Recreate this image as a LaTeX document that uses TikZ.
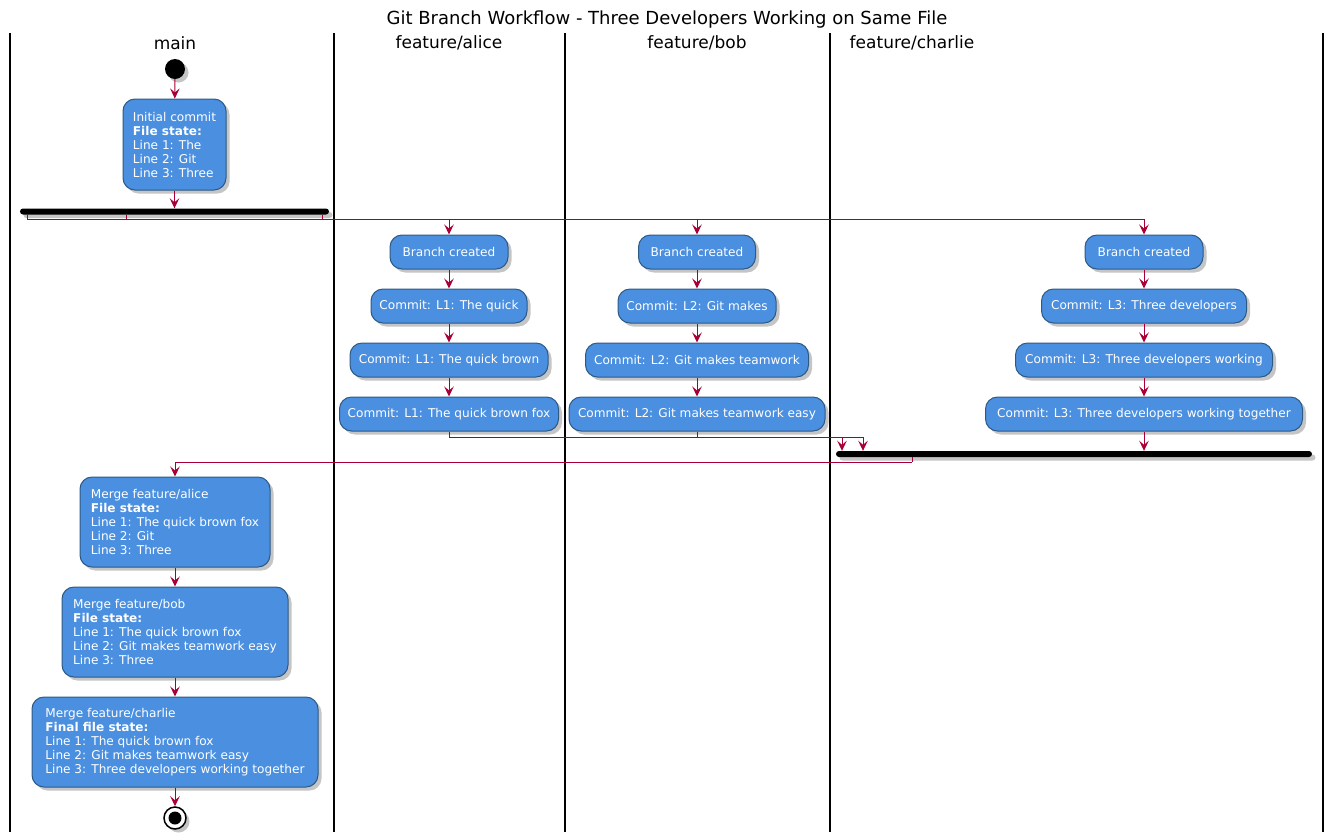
\documentclass[tikz,border=0pt]{standalone}
\usepackage{fontspec}
\setmainfont{DejaVu Sans}
\usetikzlibrary{arrows.meta,shadows}
\definecolor{boxfill}{HTML}{4A8FE0}
\definecolor{boxline}{HTML}{2D5A85}
\definecolor{arr}{HTML}{A80036}
\begin{document}
\begin{tikzpicture}[x=1pt,y=-1pt,
  shade/.style={drop shadow={shadow xshift=3.5pt,shadow yshift=-3.5pt,fill=black!45,opacity=0.5}},
  act/.style={rectangle, rounded corners=12pt, draw=boxline, line width=1pt, fill=boxfill,
    text=white, font=\fontsize{12.1}{14}\selectfont, inner xsep=4pt, inner ysep=3pt,
    minimum height=34pt, shade},
  multi/.style={act, align=left},
  flow/.style={draw=arr, line width=1pt, -{Stealth[length=10pt,width=9.5pt,inset=4pt]}},
  wire/.style={draw=arr, line width=1pt},
  lane/.style={draw=black, line width=1.6pt},
  bar/.style={rectangle, rounded corners=3pt, fill=black, inner sep=0pt, minimum height=6pt, shade},
  lanetitle/.style={font=\fontsize{17}{20}\selectfont, inner sep=0pt}
]
\useasboundingbox (0,0) rectangle (1334,839);
\fill[white] (0,0) rectangle (1334,839);

% title and lanes
\node[lanetitle, font=\fontsize{18}{20}\selectfont] (title) at (667,20) {Git Branch Workflow - Three Developers Working on Same File};
\draw[lane] (10,33) -- (10,832);
\draw[lane] (334,33) -- (334,832);
\draw[lane] (565,33) -- (565,832);
\draw[lane] (830,33) -- (830,832);
\draw[lane] (1323,33) -- (1323,832);
\node[lanetitle] (tmain) at (175,43) {main};
\node[lanetitle] (talice) at (449,43) {feature/alice};
\node[lanetitle] (tbob) at (697,43) {feature/bob};
\node[lanetitle] (tcharlie) at (912,43) {feature/charlie};

% main start
\node[circle, fill=black, minimum size=20pt, inner sep=0pt, shade] (start) at (175,69) {};
\node[multi, minimum width=103pt, minimum height=91pt] (init) at (174.5,144.5)
  {Initial commit\\\textbf{File state:}\\Line 1: The\\Line 2: Git\\Line 3: Three};
\node[bar, minimum width=309pt] (fork) at (174.5,211.5) {};

% alice
\node[act, minimum width=118pt] (a1) at (449,252) {Branch created};
\node[act, minimum width=156pt] (a2) at (449,306) {Commit: L1: The quick};
\node[act, minimum width=198pt] (a3) at (449,360) {Commit: L1: The quick brown};
\node[act, minimum width=219pt] (a4) at (449,414) {Commit: L1: The quick brown fox};

% bob
\node[act, minimum width=117pt] (b1) at (697,252) {Branch created};
\node[act, minimum width=158pt] (b2) at (697,306) {Commit: L2: Git makes};
\node[act, minimum width=223pt] (b3) at (697,360) {Commit: L2: Git makes teamwork};
\node[act, minimum width=256pt] (b4) at (697,414) {Commit: L2: Git makes teamwork easy};

% charlie
\node[act, minimum width=118pt] (c1) at (1144,252) {Branch created};
\node[act, minimum width=205pt] (c2) at (1144,306) {Commit: L3: Three developers};
\node[act, minimum width=257pt] (c3) at (1144,360) {Commit: L3: Three developers working};
\node[act, minimum width=317pt] (c4) at (1144,414) {Commit: L3: Three developers working together};

\node[bar, minimum width=476pt] (join) at (1074,454) {};

% merges
\node[multi, minimum width=190pt, minimum height=90pt] (m1) at (175,522)
  {Merge feature/alice\\\textbf{File state:}\\Line 1: The quick brown fox\\Line 2: Git\\Line 3: Three};
\node[multi, minimum width=226pt, minimum height=90pt] (m2) at (175,632)
  {Merge feature/bob\\\textbf{File state:}\\Line 1: The quick brown fox\\Line 2: Git makes teamwork easy\\Line 3: Three};
\node[multi, minimum width=286pt, minimum height=90pt] (m3) at (175,742)
  {Merge feature/charlie\\\textbf{Final file state:}\\Line 1: The quick brown fox\\Line 2: Git makes teamwork easy\\Line 3: Three developers working together};
\node[circle, draw=black, line width=1.5pt, fill=white, minimum size=22pt, inner sep=0pt, shade] (stop) at (175,818) {};
\node[circle, fill=black, minimum size=13pt, inner sep=0pt] (stopdot) at (stop) {};

% connectors
\draw[flow] (start) -- (init);
\draw[flow] (init) -- (fork);
\coordinate (r) at (27,219);
\coordinate (t2) at (126,219);
\coordinate (t3) at (322,219);
\draw[wire] (fork.south -| r) -- (r);
\draw[wire] (fork.south -| t2) -- (t2);
\draw[wire] (fork.south -| t3) -- (t3);
\draw[flow] (r) -| (a1.north);
\draw[flow] (r) -| (b1.north);
\draw[flow] (r) -| (c1.north);

\draw[flow] (a1) -- (a2);
\draw[flow] (a2) -- (a3);
\draw[flow] (a3) -- (a4);
\draw[flow] (b1) -- (b2);
\draw[flow] (b2) -- (b3);
\draw[flow] (b3) -- (b4);
\draw[flow] (c1) -- (c2);
\draw[flow] (c2) -- (c3);
\draw[flow] (c3) -- (c4);

\coordinate (ja) at (842,437);
\coordinate (jb) at (863,437);
\draw[flow] (a4.south) |- (ja) -- (join.north -| ja);
\draw[flow] (b4.south) |- (jb) -- (join.north -| jb);
\draw[flow] (c4) -- (c4 |- join.north);

\coordinate (jx) at (912,462);
\draw[wire] (join.south -| jx) -- (jx);
\draw[flow] (jx) -| (m1.north);

\draw[flow] (m1) -- (m2);
\draw[flow] (m2) -- (m3);
\draw[flow] (m3) -- (stop);
\end{tikzpicture}
\end{document}
